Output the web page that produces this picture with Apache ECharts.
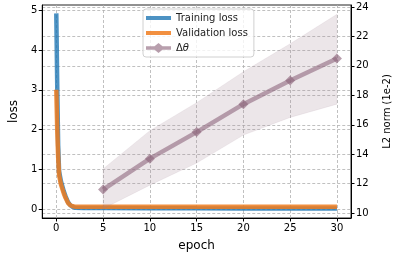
<!DOCTYPE html>
<html><head><meta charset="utf-8">
<script src="https://cdn.jsdelivr.net/npm/echarts@6/dist/echarts.min.js"></script>
<style>html,body{margin:0;padding:0;background:#fff}#c{width:400px;height:257px}</style>
</head><body><div id="c"></div>
<script>
const lossEpochs = [0, 0.1, 0.2, 0.3, 0.5, 0.8, 1.0, 1.25, 1.5, 1.75, 2, 3, 5, 10, 15, 20, 25, 30];
const trainLoss  = [4.92, 3.1, 1.6, 0.95, 0.7, 0.45, 0.32, 0.18, 0.1, 0.06, 0.04, 0.03, 0.03, 0.025, 0.022, 0.02, 0.02, 0.02];
const valLoss    = [3.0, 2.0, 1.3, 0.85, 0.62, 0.4, 0.28, 0.16, 0.1, 0.075, 0.065, 0.06, 0.06, 0.06, 0.062, 0.063, 0.064, 0.065];
const thetaEpochs = [5, 10, 15, 20, 25, 30];
const thetaMean = [11.6, 13.7, 15.5, 17.4, 19.0, 20.5];
const thetaLow  = [10.3, 11.9, 13.4, 15.3, 16.5, 17.4];
const thetaHigh = [13.0, 15.6, 17.5, 19.6, 21.5, 23.5];
const xTicks = [0, 5, 10, 15, 20, 25, 30];
const lossTicks = [0, 1, 2, 3, 4, 5];
const normTicks = [10, 12, 14, 16, 18, 20, 22, 24];

const zip = (a, b) => a.map((v, i) => [v, b[i]]);
const FONT = 'DejaVu Sans';
const THETA = 'rgba(140,100,122,0.58)';
const gridLine = {show: true, lineStyle: {color: '#b0b0b0', type: [3, 2], width: 0.8}};
const barIcon = 'path://M0,0 L25,0 L25,4 L0,4 Z';
const thetaIcon = 'path://M0,3.2 L8.5,3.2 L12.5,0 L16.5,3.2 L25,3.2 L25,6.8 L16.5,6.8 L12.5,10 L8.5,6.8 L0,6.8 Z';
const chart = echarts.init(document.getElementById('c'), null, {renderer: 'canvas'});
chart.setOption({
  animation: false,
  textStyle: {fontFamily: FONT},
  grid: {left: 30, right: 34, top: 5, bottom: 32, show: true, borderColor: '#222', borderWidth: 1, backgroundColor: 'transparent'},
  legend: {
    orient: 'vertical', left: 143, top: 9, itemWidth: 25, itemHeight: 10, itemGap: 5,
    padding: [4, 6, 4, 3], borderColor: '#d0d0d0', borderWidth: 1, borderRadius: 3, backgroundColor: 'rgba(255,255,255,0.8)',
    data: [{name: 'Training loss', icon: barIcon}, {name: 'Validation loss', icon: barIcon}, {name: 'Δθ', icon: thetaIcon}],
    formatter: n => n === 'Δθ' ? '{d|Δ}{t|θ}' : n,
    textStyle: {fontFamily: FONT, fontSize: 10, color: '#222',
      rich: {d: {fontFamily: FONT, fontSize: 10, color: '#222'}, t: {fontFamily: FONT, fontSize: 10, fontStyle: 'italic', color: '#222'}}}
  },
  xAxis: {
    type: 'value', min: -1.5, max: 31.5, name: 'epoch', nameLocation: 'middle', nameGap: 22,
    nameTextStyle: {fontSize: 12, color: '#000', fontFamily: FONT},
    axisLine: {show: true, onZero: false, lineStyle: {color: '#000'}},
    axisTick: {show: true, customValues: xTicks, length: 3.5, lineStyle: {color: '#000'}},
    axisLabel: {customValues: xTicks, fontSize: 10, color: '#000', margin: 5},
    splitLine: gridLine
  },
  yAxis: [{
    type: 'value', min: -0.22, max: 5.13, name: 'loss', nameLocation: 'middle', nameGap: 18, nameRotate: 90,
    nameTextStyle: {fontSize: 12, color: '#000', fontFamily: FONT},
    axisLine: {show: true, onZero: false, lineStyle: {color: '#000'}},
    axisTick: {show: true, customValues: lossTicks, length: 3.5, lineStyle: {color: '#000'}},
    axisLabel: {customValues: lossTicks, fontSize: 10, color: '#000', margin: 5},
    splitLine: gridLine
  }, {
    type: 'value', position: 'right', min: 9.67, max: 24.13, name: 'L2 norm (1e-2)', nameLocation: 'middle', nameGap: 31, nameRotate: 90,
    nameTextStyle: {fontSize: 10, color: '#000', fontFamily: FONT},
    axisLine: {show: true, onZero: false, lineStyle: {color: '#000'}},
    axisTick: {show: true, customValues: normTicks, length: 3.5, lineStyle: {color: '#000'}},
    axisLabel: {customValues: normTicks, fontSize: 10, color: '#000', margin: 5},
    splitLine: gridLine
  }],
  series: [
    {name: 'Training loss', type: 'line', data: zip(lossEpochs, trainLoss), symbol: 'none', color: 'rgba(31,119,180,0.8)',
     lineStyle: {width: 4.5, color: 'rgba(31,119,180,0.8)'}, z: 2},
    {name: 'Validation loss', type: 'line', data: zip(lossEpochs, valLoss), symbol: 'none', color: 'rgba(240,125,30,0.85)',
     lineStyle: {width: 4.5, color: 'rgba(240,125,30,0.85)'}, z: 3},
    {name: 'band', type: 'custom', yAxisIndex: 1, silent: true, z: 4,
     data: thetaEpochs.map((x, i) => [x, thetaLow[i], thetaHigh[i]]),
     encode: {x: 0, y: [1, 2]},
     renderItem: (params, api) => {
       if (params.dataIndex !== 0) return null;
       const top = thetaEpochs.map((x, i) => api.coord([x, thetaHigh[i]]));
       const bot = thetaEpochs.map((x, i) => api.coord([x, thetaLow[i]])).reverse();
       return {type: 'polygon', shape: {points: top.concat(bot)},
               style: {fill: 'rgba(160,130,145,0.2)', stroke: 'rgba(150,120,135,0.12)', lineWidth: 0.8}};
     }},
    {name: 'Δθ', type: 'line', yAxisIndex: 1, data: zip(thetaEpochs, thetaMean), symbol: 'diamond', symbolSize: 10,
     color: THETA, lineStyle: {width: 4.5, color: THETA}, itemStyle: {color: 'rgba(140,100,122,0.62)'}, z: 5}
  ]
});
</script></body></html>
